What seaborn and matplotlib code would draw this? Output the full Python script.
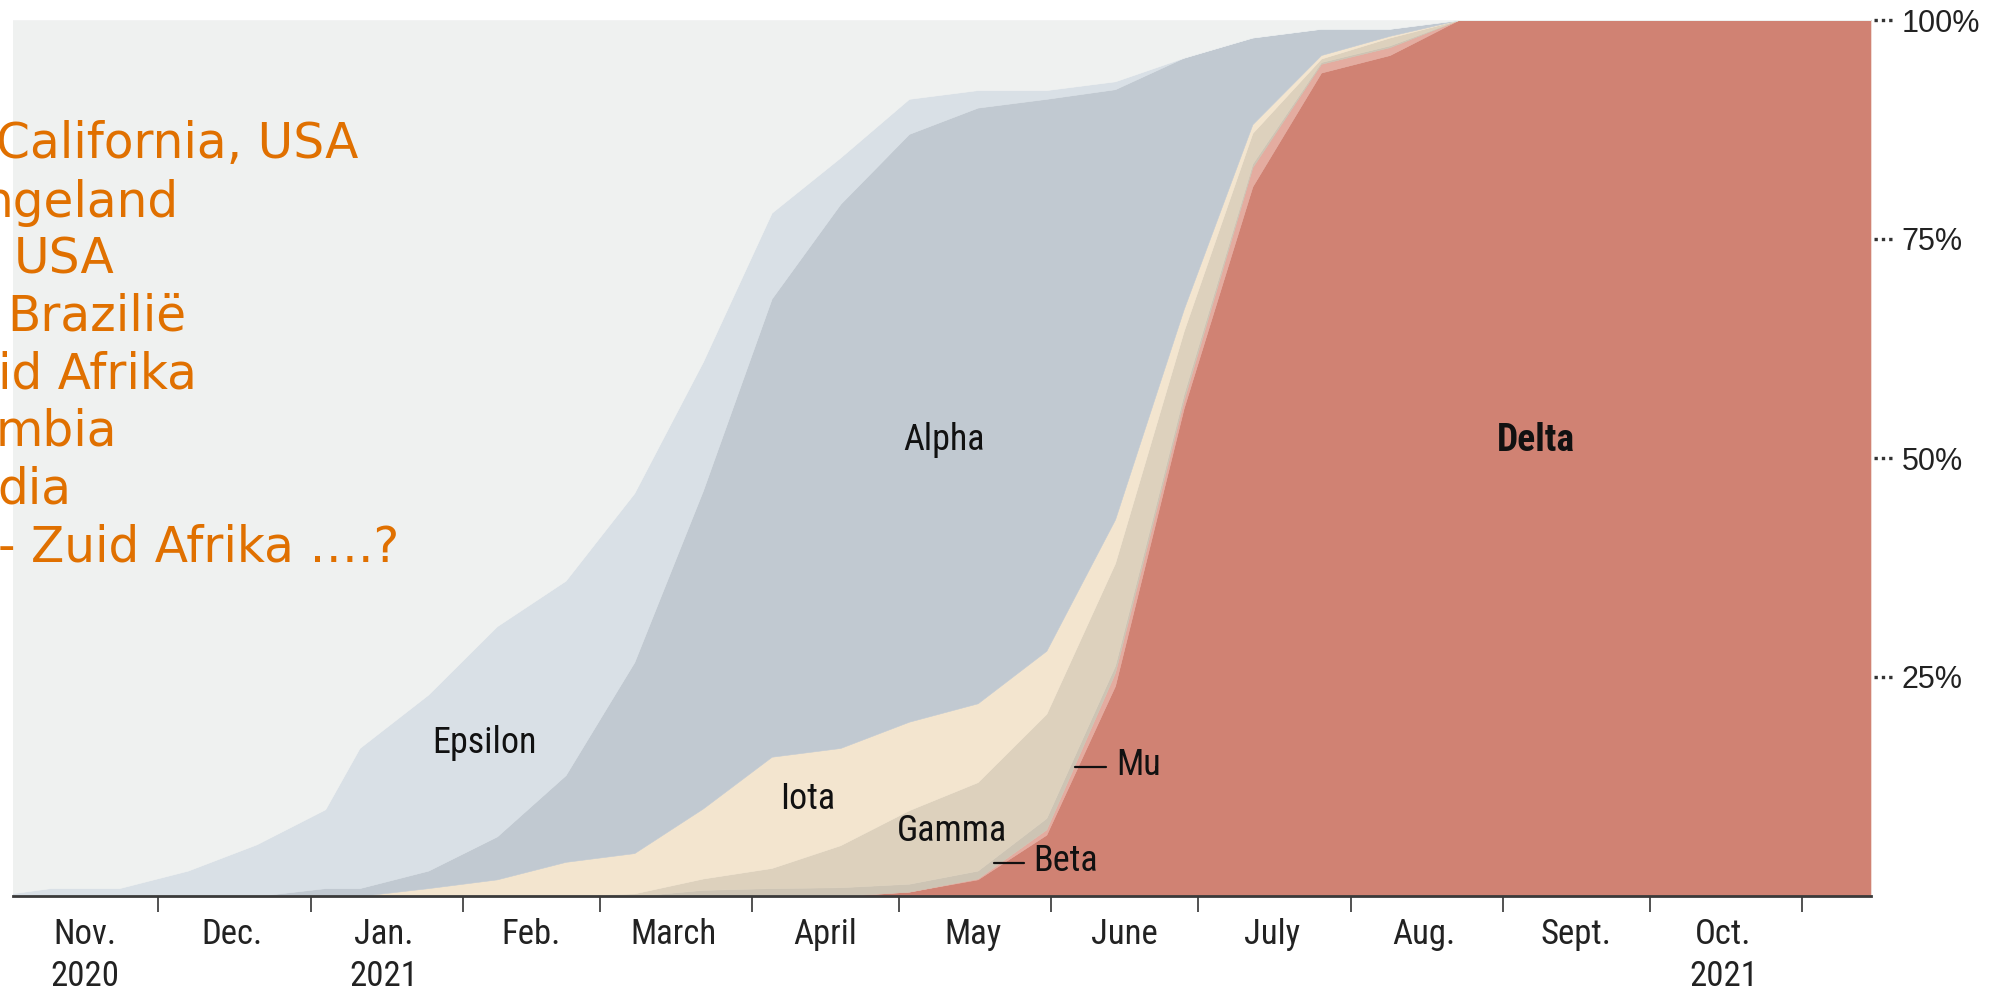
import matplotlib
matplotlib.use("Agg")
import matplotlib.pyplot as plt
import numpy as np
import pandas as pd
import seaborn as sns

# ---- Share of sequenced U.S. cases by variant (percent), biweekly ----
dates = pd.to_datetime([
    "2020-11-01", "2020-11-09", "2020-11-23", "2020-12-07", "2020-12-21",
    "2021-01-04", "2021-01-11", "2021-01-25", "2021-02-08", "2021-02-22",
    "2021-03-08", "2021-03-22", "2021-04-05", "2021-04-19", "2021-05-03",
    "2021-05-17", "2021-05-31", "2021-06-14", "2021-06-28", "2021-07-12",
    "2021-07-26", "2021-08-09", "2021-08-23", "2021-09-06", "2021-09-20",
    "2021-10-04", "2021-10-18", "2021-11-01", "2021-11-15",
])
delta   = [0, 0, 0, 0, 0, 0, 0, 0, 0, 0, 0, 0, 0, 0, 0.5, 1.9, 7.0, 24.0, 55.7, 81.0, 94.0, 96.0, 100, 100, 100, 100, 100, 100, 100]
mu      = [0, 0, 0, 0, 0, 0, 0, 0, 0, 0, 0, 0, 0, 0, 0, 0.1, 0.6, 1.5, 0.9, 2.2, 1.0, 0.9, 0, 0, 0, 0, 0, 0, 0]
beta    = [0, 0, 0, 0, 0, 0, 0, 0, 0, 0, 0, 0.7, 0.9, 1.0, 0.9, 0.9, 1.3, 0.8, 0.7, 0.4, 0.2, 0.2, 0, 0, 0, 0, 0, 0, 0]
gamma   = [0, 0, 0, 0, 0, 0, 0, 0, 0, 0, 0.3, 1.3, 2.3, 4.8, 8.4, 10.1, 11.9, 11.7, 7.2, 3.5, 0.4, 0.9, 0, 0, 0, 0, 0, 0, 0]
iota    = [0, 0, 0, 0, 0, 0, 0, 0.9, 1.9, 3.9, 4.6, 8.0, 12.7, 11.1, 10.1, 9.0, 7.2, 5.0, 2.5, 1.0, 0.4, 0.2, 0, 0, 0, 0, 0, 0, 0]
alpha   = [0, 0, 0, 0, 0, 0.9, 0.9, 2.0, 4.9, 9.9, 21.8, 36.3, 52.3, 62.1, 67.1, 68.0, 63.0, 49.1, 28.7, 9.9, 3.0, 0.8, 0, 0, 0, 0, 0, 0, 0]
epsilon = [0.3, 0.9, 0.9, 2.9, 5.9, 9.0, 16.0, 20.1, 24.0, 22.2, 19.3, 14.7, 9.8, 5.3, 4.0, 2.0, 1.0, 0.9, 0, 0, 0, 0, 0, 0, 0, 0, 0, 0, 0]
other   = [99.7, 99.1, 99.1, 97.1, 94.1, 90.1, 83.1, 77.0, 69.2, 64.0, 54.0, 39.0, 22.0, 15.7, 9.0, 8.0, 8.0, 7.0, 4.3, 2.0, 1.0, 1.0, 0, 0, 0, 0, 0, 0, 0]

variant_names = ["Delta", "Mu", "Beta", "Gamma", "Iota", "Alpha", "Epsilon", "Other"]
variant_colors = ["#d08273", "#e4aca0", "#cdc4b4", "#ddd1bd", "#f3e5cf", "#c1c9d1", "#d9e0e6", "#eff1f0"]

# Month axis
month_starts = pd.date_range("2020-12-01", "2021-11-01", freq="MS")
month_mids = pd.to_datetime([
    "2020-11-16", "2020-12-16", "2021-01-16", "2021-02-15", "2021-03-16", "2021-04-16",
    "2021-05-16", "2021-06-16", "2021-07-16", "2021-08-16", "2021-09-16", "2021-10-16",
])
month_labels = ["Nov.\n2020", "Dec.", "Jan.\n2021", "Feb.", "March", "April",
                "May", "June", "July", "Aug.", "Sept.", "Oct.\n2021"]
pct_ticks = [25, 50, 75, 100]
pct_labels = ["25%", "50%", "75%", "100%"]

# Notes on where each variant was first identified
origin_notes = ["California, USA", "ngeland", "USA", "Brazilië",
                "id Afrika", "mbia", "dia", "- Zuid Afrika ….?"]

df = pd.DataFrame({"date": dates, "Delta": delta, "Mu": mu, "Beta": beta, "Gamma": gamma,
                   "Iota": iota, "Alpha": alpha, "Epsilon": epsilon, "Other": other})

sns.set_theme(style="white")
NARROW = ["Roboto Condensed", "Liberation Sans Narrow", "DejaVu Sans Condensed",
          "Liberation Sans", "DejaVu Sans"]
plt.rcParams["font.family"] = NARROW

W, H = 2008, 994
fig = plt.figure(figsize=(W / 100, H / 100), dpi=100)
fig.patch.set_facecolor("white")
ax = fig.add_axes([13 / W, 98 / H, (1871 - 13) / W, (896 - 20) / H])
ax.set_facecolor("white")

polys = ax.stackplot(df["date"], *[df[n] for n in variant_names],
                     colors=variant_colors, labels=variant_names)
for p, c in zip(polys, variant_colors):
    p.set_edgecolor(c)
    p.set_linewidth(0.4)

t0 = pd.Timestamp("2020-11-01")
ax.set_xlim(t0 + pd.Timedelta(days=0.35), t0 + pd.Timedelta(days=379.1))
ax.set_ylim(0, 100)

sns.despine(ax=ax, left=True, right=True, top=True)
ax.spines["bottom"].set_color("#3a3a3a")
ax.spines["bottom"].set_linewidth(2.0)

# x axis: month boundaries as ticks, month names centred between them
ax.set_xticks(month_starts)
ax.set_xticklabels([])
ax.set_xticks(month_mids, minor=True)
ax.set_xticklabels(month_labels, minor=True)
ax.tick_params(axis="x", which="major", direction="out", length=11.5, width=1.1,
               color="#222222", bottom=True)
ax.tick_params(axis="x", which="minor", length=0, pad=16, labelsize=25,
               labelcolor="#222222", bottom=True)
for t in ax.xaxis.get_minor_ticks():
    t.label1.set_linespacing(1.33)
    t.label1.set_fontfamily(NARROW)
    t.label1.set_fontstretch("condensed")

# y axis on the right with dotted leaders
ax.yaxis.tick_right()
ax.set_yticks(pct_ticks)
ax.set_yticklabels(pct_labels)
ax.tick_params(axis="y", which="major", length=0, pad=22, labelsize=22,
               labelcolor="#222222", right=True, left=False)
for t in ax.yaxis.get_major_ticks():
    t.label2.set_fontfamily(["Liberation Sans", "DejaVu Sans"])
ytrans = ax.get_yaxis_transform()
for v in pct_ticks:
    ax.plot([1.0015, 1.0118], [v, v], transform=ytrans, clip_on=False,
            color="#333333", lw=2.4, ls=(0, (1, 1.2)), dash_capstyle="butt")
ax.grid(False)

def day(d):
    return t0 + pd.Timedelta(days=d)

lab_kw = dict(fontsize=26, color="#111111", ha="center", va="baseline",
              family=NARROW, fontstretch="condensed")
ax.text(day(96.4), 16.3, "Epsilon", **lab_kw)
ax.text(day(190.2), 50.9, "Alpha", **lab_kw)
ax.text(day(162.4), 9.9, "Iota", **lab_kw)
ax.text(day(191.8), 6.3, "Gamma", **lab_kw)
ax.text(day(310.7), 50.8, "Delta", fontsize=27, fontweight="bold", color="#111111",
        ha="center", va="baseline", family=NARROW, fontstretch="condensed")

# leader lines for the thin bands
side_kw = dict(fontsize=26, color="#111111", ha="left", va="baseline",
               family=NARROW, fontstretch="condensed")
ax.plot([day(200.4), day(206.4)], [3.8, 3.8], color="#111111", lw=1.6)
ax.text(day(208.4), 2.9, "Beta", **side_kw)
ax.plot([day(216.9), day(223.2)], [14.75, 14.75], color="#111111", lw=1.6)
ax.text(day(225.3), 13.8, "Mu", **side_kw)

# orange notes, running off the left edge
note_right = [358, 179, 115, 186.7, 196.7, 117, 71.7, None]
note_base = [158.3, 216.7, 274, 330, 388.3, 445, 503, 561.7]
for s, xr, yb in zip(origin_notes, note_right, note_base):
    if xr is None:
        fig.text(-2 / W, 1 - yb / H, s, ha="left", va="baseline", fontsize=35,
                 color="#e07000", family=["DejaVu Sans"])
    else:
        fig.text(xr / W, 1 - yb / H, s, ha="right", va="baseline", fontsize=35,
                 color="#e07000", family=["DejaVu Sans"])

fig.savefig("out.png", dpi=100, facecolor="white")
